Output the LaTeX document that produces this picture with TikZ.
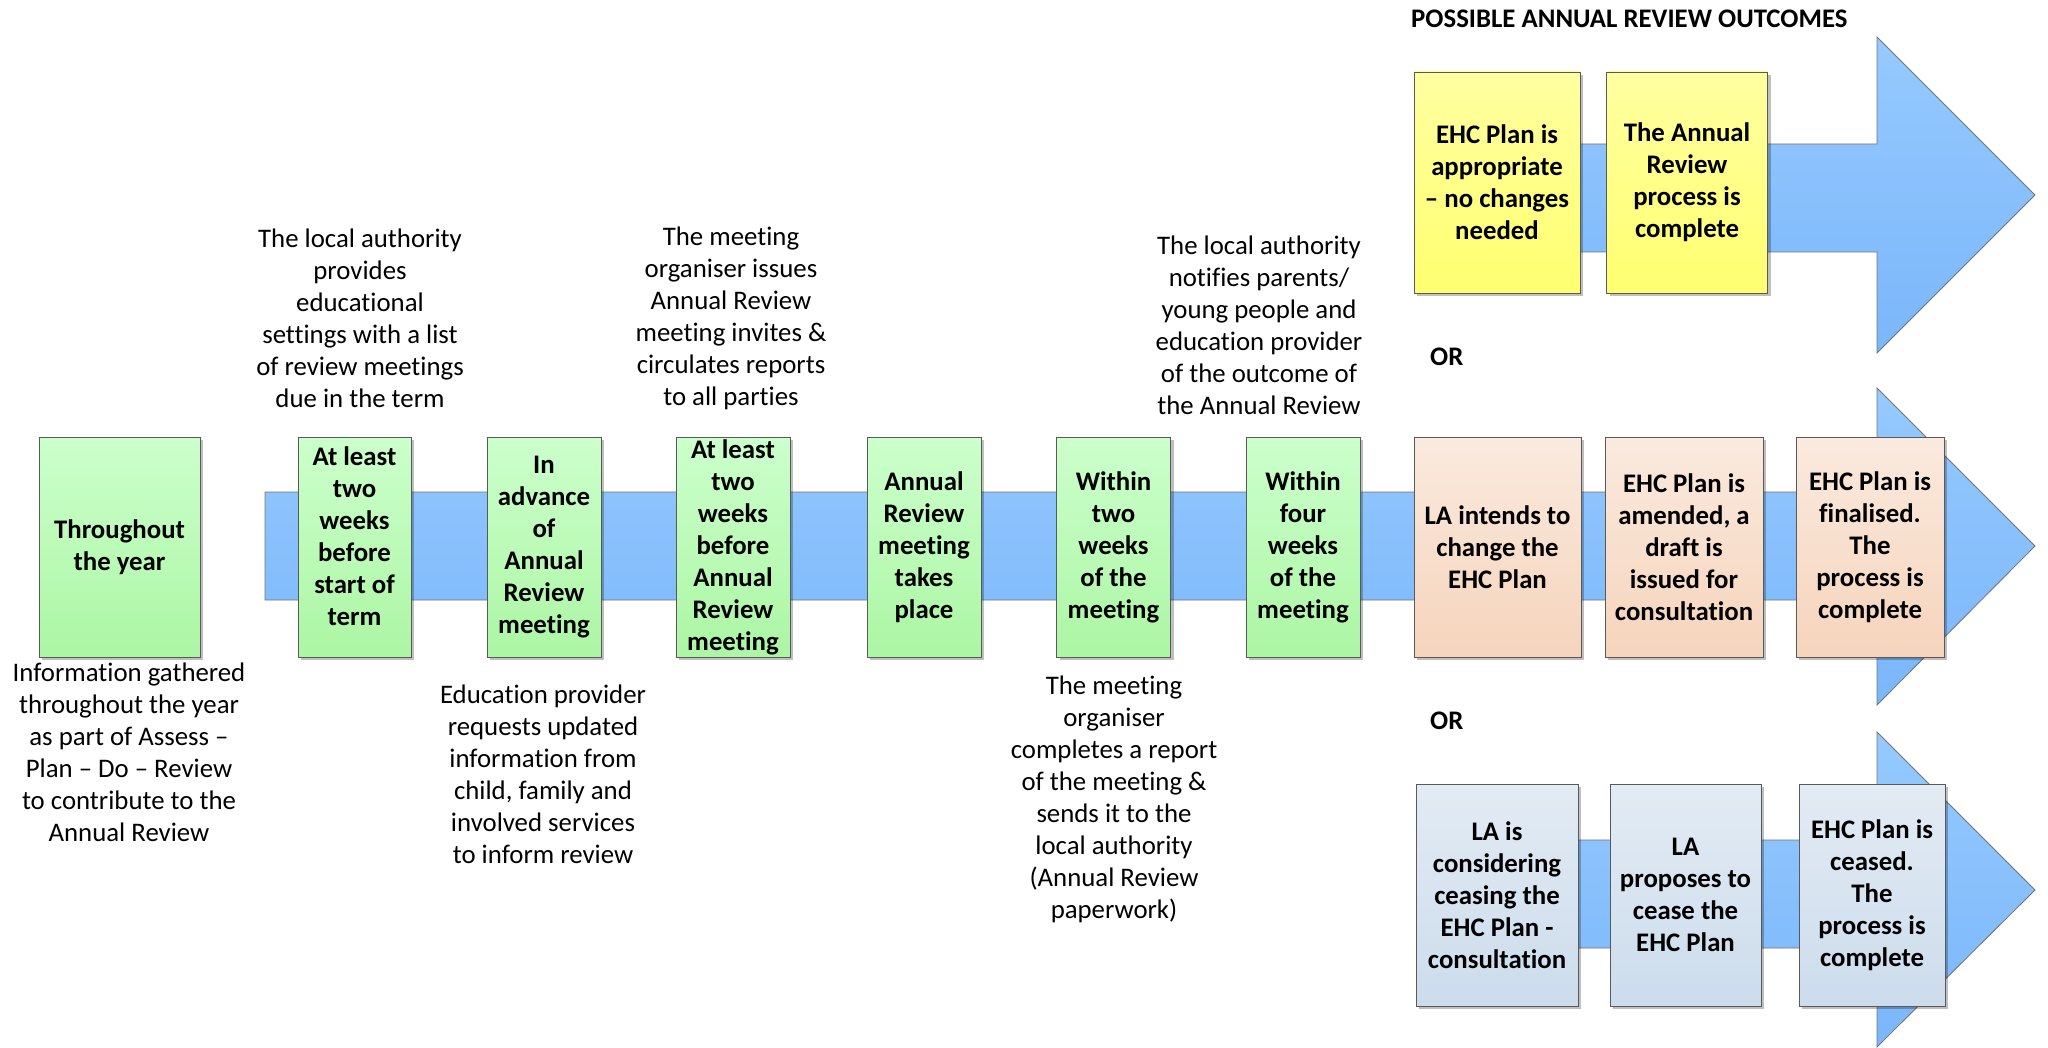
\documentclass[tikz,border=0pt]{standalone}
\usepackage{fontspec}
\setmainfont{Carlito}[Ligatures=NoCommon]
\usetikzlibrary{shadows}
\definecolor{gtop}{RGB}{204,255,204}
\definecolor{gbot}{RGB}{172,246,164}
\definecolor{ytop}{RGB}{255,255,160}
\definecolor{ybot}{RGB}{255,255,112}
\definecolor{ptop}{RGB}{250,234,222}
\definecolor{pbot}{RGB}{246,212,188}
\definecolor{btop}{RGB}{227,235,244}
\definecolor{bbot}{RGB}{204,220,236}
\definecolor{atop}{RGB}{150,202,255}
\definecolor{abot}{RGB}{122,182,250}
\begin{document}
\begin{tikzpicture}[x=1pt,y=-1pt,
  boxbase/.style={draw=black!65, line width=0.8pt, inner sep=0pt,
    drop shadow={shadow xshift=3pt, shadow yshift=-3pt, fill=black, opacity=0.25}},
  greenbox/.style={boxbase, top color=gtop, bottom color=gbot, minimum height=220pt},
  yellowbox/.style={boxbase, top color=ytop, bottom color=ybot, minimum height=221pt},
  peachbox/.style={boxbase, top color=ptop, bottom color=pbot, minimum height=220pt},
  greybox/.style={boxbase, top color=btop, bottom color=bbot, minimum height=222pt},
  boxtext/.style={align=center, inner sep=0pt, font=\bfseries\fontsize{26.8}{32}\selectfont},
  anno/.style={align=center, inner sep=0pt, font=\fontsize{26.8}{32}\selectfont},
  bigarrow/.style={draw=black!55, line width=0.8pt, top color=atop, bottom color=abot}
]
\useasboundingbox (0,0) rectangle (2048,1048);

% arrows
\path[bigarrow] (265,492) -- (1877,492) -- (1877,388) -- (2035,546) -- (1877,705) -- (1877,600) -- (265,600) -- cycle;
\path[bigarrow] (1440,144) -- (1877,144) -- (1877,37) -- (2035,195) -- (1877,353) -- (1877,252) -- (1440,252) -- cycle;
\path[bigarrow] (1440,840) -- (1877,840) -- (1877,732) -- (2035,890) -- (1877,1047) -- (1877,948) -- (1440,948) -- cycle;

% timeline boxes
\node[greenbox, minimum width=161pt] (g1) at (119.5,547) {};
\node[greenbox, minimum width=113pt] (g2) at (354.5,547) {};
\node[greenbox, minimum width=114pt] (g3) at (544,547) {};
\node[greenbox, minimum width=114pt] (g4) at (733,547) {};
\node[greenbox, minimum width=114pt] (g5) at (924,547) {};
\node[greenbox, minimum width=114pt] (g6) at (1113.5,547) {};
\node[greenbox, minimum width=114pt] (g7) at (1303,547) {};
\node[boxtext] (g1t) at (g1) {Throughout\\the year};
\node[boxtext] (g2t) at (354.5,536) {At least\\two\\weeks\\before\\start of\\term};
\node[boxtext] (g3t) at (g3) {In\\advance\\of\\Annual\\Review\\meeting};
\node[boxtext] (g4t) at (g4) {At least\\two\\weeks\\before\\Annual\\Review\\meeting};
\node[boxtext] (g5t) at (g5) {Annual\\Review\\meeting\\takes\\place};
\node[boxtext] (g6t) at (g6) {Within\\two\\weeks\\of the\\meeting};
\node[boxtext] (g7t) at (g7) {Within\\four\\weeks\\of the\\meeting};

% outcome 1
\node[yellowbox, minimum width=166pt] (y1) at (1497,182.5) {};
\node[yellowbox, minimum width=161pt] (y2) at (1687,182.5) {};
\node[boxtext] (y1t) at (y1) {EHC Plan is\\appropriate\\– no changes\\needed};
\node[boxtext] (y2t) at (y2) {The Annual\\Review\\process is\\complete};

% outcome 2
\node[peachbox, minimum width=167pt] (p1) at (1497.5,547) {};
\node[peachbox, minimum width=158pt] (p2) at (1684,547) {};
\node[peachbox, minimum width=148pt] (p3) at (1870,547) {};
\node[boxtext] (p1t) at (p1) {LA intends to\\change the\\EHC Plan};
\node[boxtext] (p2t) at (p2) {EHC Plan is\\amended, a\\draft is\\issued for\\consultation};
\node[boxtext] (p3t) at (p3) {EHC Plan is\\finalised.\\The\\process is\\complete};

% outcome 3
\node[greybox, minimum width=162pt] (b1) at (1497,895) {};
\node[greybox, minimum width=151pt] (b2) at (1685.5,895) {};
\node[greybox, minimum width=146pt] (b3) at (1872,895) {};
\node[boxtext] (b1t) at (b1) {LA is\\considering\\ceasing the\\EHC Plan -\\consultation};
\node[boxtext] (b2t) at (b2) {LA\\proposes to\\cease the\\EHC Plan};
\node[boxtext] (b3t) at (b3) {EHC Plan is\\ceased.\\The\\process is\\complete};

% headings
\node[boxtext, anchor=west] (title) at (1411,19) {POSSIBLE ANNUAL REVIEW OUTCOMES};
\node[boxtext, anchor=west] (or1) at (1430,357) {OR};
\node[boxtext, anchor=west] (or2) at (1430,721) {OR};

% annotations
\node[anno] (a1) at (360,318.5) {The local authority\\provides\\educational\\settings with a list\\of review meetings\\due in the term};
\node[anno] (a2) at (731,318.5) {The meeting\\organiser issues\\Annual Review\\meeting invites \&\\circulates reports\\to all parties};
\node[anno] (a3) at (1259,325) {The local authority\\notifies parents/\\young people and\\education provider\\of the outcome of\\the Annual Review};
\node[anno] (a4) at (129,752.5) {Information gathered\\throughout the year\\as part of Assess –\\Plan – Do – Review\\to contribute to the\\Annual Review};
\node[anno] (a5) at (543,774.5) {Education provider\\requests updated\\information from\\child, family and\\involved services\\to inform review};
\node[anno] (a6) at (1114,799.5) {The meeting\\organiser\\completes a report\\of the meeting \&\\sends it to the\\local authority\\(Annual Review\\paperwork)};
\end{tikzpicture}
\end{document}
